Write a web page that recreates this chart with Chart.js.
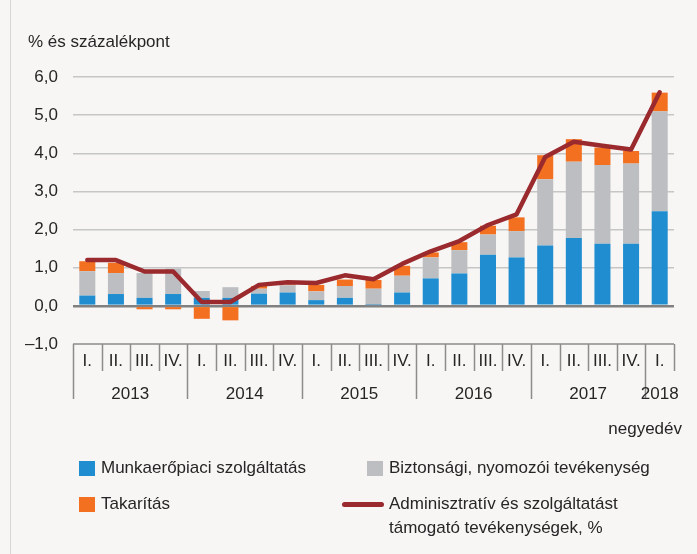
<!DOCTYPE html>
<html>
<head>
<meta charset="utf-8">
<script src="https://cdn.jsdelivr.net/npm/chart.js"></script>
<style>
  body { margin: 0; background: #f7f6f4; font-family: "Liberation Sans", Arial, sans-serif; color: #262626; }
  #wrap { position: relative; width: 697px; height: 554px; overflow: hidden; }
  #frame { position: absolute; left: 10px; top: 0; width: 1px; height: 554px; background: #d6d6d6; }
  canvas { position: absolute; left: 0; top: 0; }
  .txt { position: absolute; font-size: 17px; line-height: 24px; white-space: nowrap; }
  .sq { position: absolute; width: 16px; height: 15px; }
  .ln { position: absolute; width: 42px; height: 5px; border-radius: 3px; background: #9a2a2e; }
</style>
</head>
<body>
<div id="wrap">
  <div id="frame"></div>
  <canvas id="chart" width="697" height="554"></canvas>
  <div class="txt" style="left:28px; top:30px;">% és százalékpont</div>
  <div class="txt" style="right:15px; top:417px;">negyedév</div>

  <div class="sq" style="left:79px; top:461px; background:#1f8dd0;"></div>
  <div class="txt" style="left:101px; top:456px;">Munkaerőpiaci szolgáltatás</div>
  <div class="sq" style="left:367px; top:461px; background:#bdbec1;"></div>
  <div class="txt" style="left:389px; top:456px;">Biztonsági, nyomozói tevékenység</div>
  <div class="sq" style="left:79px; top:497px; background:#f37021;"></div>
  <div class="txt" style="left:101px; top:492px;">Takarítás</div>
  <div class="ln" style="left:342px; top:502px;"></div>
  <div class="txt" style="left:389px; top:492px;">Adminisztratív és szolgáltatást<br>támogató tevékenységek, %</div>
</div>
<script>
const quarters = ["I.", "II.", "III.", "IV.", "I.", "II.", "III.", "IV.", "I.", "II.", "III.", "IV.",
  "I.", "II.", "III.", "IV.", "I.", "II.", "III.", "IV.", "I."];
const years = ["2013", "2014", "2015", "2016", "2017", "2018"];

// stacked contributions, percentage points
const munkaeropiaci = [0.27, 0.31, 0.21, 0.31, 0.21, 0.21, 0.32, 0.35, 0.15, 0.21, 0.02, 0.35,
  0.72, 0.85, 1.34, 1.27, 1.58, 1.78, 1.63, 1.63, 2.48];
const biztonsagi = [0.64, 0.55, 0.65, 0.67, 0.18, 0.28, 0.13, 0.19, 0.23, 0.31, 0.43, 0.44,
  0.55, 0.61, 0.53, 0.69, 1.74, 2.0, 2.06, 2.1, 2.62];
const takaritas = [0.26, 0.27, -0.09, -0.09, -0.34, -0.38, 0.07, 0.02, 0.17, 0.17, 0.23, 0.26,
  0.13, 0.21, 0.23, 0.36, 0.63, 0.59, 0.46, 0.33, 0.49];
// total, %
const adminisztrativ = [1.2, 1.2, 0.9, 0.9, 0.1, 0.1, 0.55, 0.62, 0.6, 0.8, 0.7, 1.1,
  1.43, 1.7, 2.12, 2.4, 3.9, 4.3, 4.2, 4.1, 5.6];

const FONT = "Liberation Sans, Arial, sans-serif";

// two level category axis (quarters + years) drawn under the plot
const groupAxis = {
  id: "groupAxis",
  afterDraw(chart) {
    const ctx = chart.ctx;
    const x = chart.scales.x;
    const area = chart.chartArea;
    const half = (x.getPixelForValue(1) - x.getPixelForValue(0)) / 2;
    const top = area.bottom;
    ctx.save();
    ctx.strokeStyle = "#8c8c8c";
    ctx.lineWidth = 1.5;
    ctx.beginPath();
    ctx.moveTo(x.getPixelForValue(0) - half, top);
    ctx.lineTo(x.getPixelForValue(quarters.length - 1) + half, top);
    for (let i = 0; i <= quarters.length; i++) {
      const px = Math.round(x.getPixelForValue(i) - half) + 0.5;
      const long = i % 4 === 0 && i < quarters.length;
      ctx.moveTo(px, top);
      ctx.lineTo(px, top + (long ? 55 : 27));
    }
    ctx.stroke();

    ctx.fillStyle = "#262626";
    ctx.font = "17px " + FONT;
    ctx.textAlign = "center";
    ctx.textBaseline = "middle";
    quarters.forEach((q, i) => {
      ctx.fillText(q, x.getPixelForValue(i), top + 17);
    });
    years.forEach((y, j) => {
      const first = j * 4;
      const last = Math.min(first + 3, quarters.length - 1);
      const cx = (x.getPixelForValue(first) + x.getPixelForValue(last)) / 2;
      ctx.fillText(y, cx, top + 50);
    });
    ctx.restore();
  }
};

const ctx = document.getElementById("chart").getContext("2d");
const chart = new Chart(ctx, {
  type: "bar",
  data: {
    labels: quarters,
    datasets: [
      {
        type: "line",
        label: "Adminisztratív és szolgáltatást támogató tevékenységek, %",
        data: adminisztrativ,
        borderColor: "#9a2a2e",
        borderWidth: 4.5,
        borderCapStyle: "round",
        borderJoinStyle: "round",
        pointRadius: 0,
        tension: 0,
        stack: "line",
        order: 0,
      },
      {
        label: "Munkaerőpiaci szolgáltatás",
        data: munkaeropiaci,
        backgroundColor: "#1f8dd0",
        stack: "bars",
        order: 1,
      },
      {
        label: "Biztonsági, nyomozói tevékenység",
        data: biztonsagi,
        backgroundColor: "#bdbec1",
        stack: "bars",
        order: 1,
      },
      {
        label: "Takarítás",
        data: takaritas,
        backgroundColor: "#f37021",
        stack: "bars",
        order: 1,
      },
    ],
  },
  options: {
    responsive: false,
    animation: false,
    barPercentage: 0.56,
    categoryPercentage: 1,
    layout: { padding: { left: 0, top: 77, right: 23, bottom: 210 } },
    scales: {
      x: {
        display: false,
        stacked: true,
      },
      y: {
        stacked: true,
        min: -1,
        max: 6,
        afterFit: (s) => { s.width = 73; },
        border: { display: false },
        grid: {
          drawTicks: false,
          color: (c) => c.tick.value === 0 ? "#808080" : (c.tick.value === -1 ? "rgba(0,0,0,0)" : "#c6c6c6"),
          lineWidth: (c) => c.tick.value === 0 ? 2.5 : 1.5,
        },
        ticks: {
          stepSize: 1,
          padding: 15,
          color: "#262626",
          font: { family: FONT, size: 17 },
          callback: (v) => (v < 0 ? "\u2013" : "") + Math.abs(v).toFixed(1).replace(".", ","),
        },
      },
    },
    plugins: {
      legend: { display: false },
      tooltip: { enabled: false },
    },
  },
  plugins: [groupAxis],
});
</script>
</body>
</html>
